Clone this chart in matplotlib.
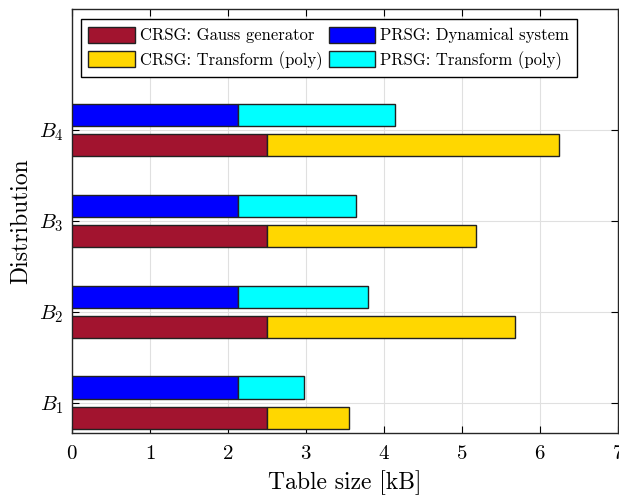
import numpy as np
import matplotlib
matplotlib.use("Agg")
import matplotlib.pyplot as plt

plt.rcParams['font.family'] = ['cmr10', 'DejaVu Serif']
plt.rcParams['mathtext.fontset'] = 'cm'
plt.rcParams['axes.formatter.use_mathtext'] = True

# данные: размер таблиц, кБ
distributions = ['$B_1$', '$B_2$', '$B_3$', '$B_4$']
crsg_gauss = [2.5, 2.5, 2.5, 2.5]
crsg_transform = [1.05, 3.18, 2.68, 3.75]
prsg_dynamical = [2.13, 2.13, 2.13, 2.13]
prsg_transform = [0.85, 1.66, 1.515, 2.01]

c_red = '#A2142F'
c_yellow = '#FFD700'
c_blue = '#0000FF'
c_cyan = '#00FFFF'

fig = plt.figure(figsize=(6.19, 4.97), dpi=100)
ax = fig.add_axes([0.1163, 0.129, 0.882, 0.853])

y = np.arange(1, len(distributions) + 1)
h = 0.25
off = 0.165
ec = dict(edgecolor='#222222', linewidth=1.0)

ax.barh(y - off, crsg_gauss, h, color=c_red, label='CRSG: Gauss generator', **ec, zorder=3)
ax.barh(y - off, crsg_transform, h, left=crsg_gauss, color=c_yellow,
        label='CRSG: Transform (poly)', **ec, zorder=3)
ax.barh(y + off, prsg_dynamical, h, color=c_blue, label='PRSG: Dynamical system', **ec, zorder=3)
ax.barh(y + off, prsg_transform, h, left=prsg_dynamical, color=c_cyan,
        label='PRSG: Transform (poly)', **ec, zorder=3)

ax.set_xlim(0, 7)
ax.set_ylim(0.67, 5.33)
ax.set_yticks(y)
ax.set_yticklabels(distributions)
ax.set_xticks(range(8))
ax.tick_params(direction='in', top=True, right=True, labelsize=15, length=5, width=0.8)
ax.tick_params(axis='x', pad=9)
ax.tick_params(axis='y', pad=6)
ax.grid(True, color='#e0e0e0', linewidth=0.8, zorder=0)
ax.set_axisbelow(True)
for s in ax.spines.values():
    s.set_linewidth(1.0)
    s.set_color('#262626')

ax.set_xlabel('Table size [kB]', fontsize=17, labelpad=5)
ax.set_ylabel('Distribution', fontsize=17, labelpad=5)

leg = ax.legend(ncol=2, loc='upper left', bbox_to_anchor=(0.0165, 0.976),
                borderaxespad=0, fontsize=12, fancybox=False,
                edgecolor='black', framealpha=1, handlelength=2.8, handleheight=1.1,
                columnspacing=0.35, handletextpad=0.3, borderpad=0.45,
                labelspacing=0.45)
leg.get_frame().set_linewidth(1.0)

fig.savefig('out.png', dpi=100)
